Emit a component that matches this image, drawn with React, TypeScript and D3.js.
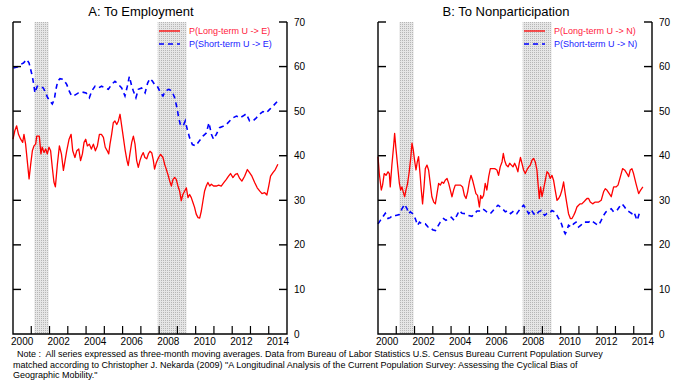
import { useEffect, useRef } from "react";
import * as d3 from "d3";

type Pt = [number, number];

// years as decimal, values in percent
const longTermE: Pt[] = [
  [2000.0, 43.7], [2000.1, 45.6], [2000.2, 46.7], [2000.3, 44.8], [2000.42, 43.7], [2000.53, 43.0],
  [2000.6, 44.8], [2000.69, 42.6], [2000.78, 38.9], [2000.88, 34.8], [2000.97, 38.1], [2001.06, 41.1],
  [2001.15, 42.2], [2001.24, 42.6], [2001.3, 44.4], [2001.44, 44.4], [2001.53, 40.4], [2001.6, 41.9],
  [2001.7, 40.7], [2001.79, 41.5], [2001.88, 40.4], [2001.97, 41.9], [2002.06, 41.1], [2002.15, 37.4],
  [2002.24, 34.1], [2002.32, 33.0], [2002.43, 38.1], [2002.54, 42.2], [2002.65, 40.4], [2002.76, 36.7],
  [2002.85, 38.9], [2002.94, 41.1], [2003.07, 43.7], [2003.18, 44.8], [2003.27, 41.1], [2003.39, 39.6],
  [2003.49, 41.1], [2003.6, 41.5], [2003.7, 38.9], [2003.8, 40.4], [2003.89, 43.0], [2003.98, 43.7],
  [2004.07, 42.2], [2004.18, 42.6], [2004.29, 41.5], [2004.4, 42.6], [2004.51, 41.1], [2004.62, 42.2],
  [2004.73, 44.8], [2004.84, 44.8], [2004.95, 44.1], [2005.05, 41.9], [2005.16, 41.1], [2005.24, 40.4],
  [2005.31, 42.6], [2005.4, 44.8], [2005.49, 47.4], [2005.58, 47.8], [2005.68, 47.0], [2005.77, 47.8],
  [2005.86, 49.3], [2005.95, 46.7], [2006.04, 44.1], [2006.13, 41.5], [2006.24, 38.9], [2006.31, 37.8],
  [2006.4, 40.4], [2006.5, 43.0], [2006.59, 44.4], [2006.68, 42.6], [2006.77, 38.9], [2006.86, 37.4],
  [2006.95, 38.9], [2007.04, 40.0], [2007.13, 40.7], [2007.22, 39.6], [2007.32, 39.3], [2007.41, 40.4],
  [2007.5, 41.0], [2007.6, 40.6], [2007.68, 39.0], [2007.75, 37.0], [2007.85, 38.5], [2007.97, 39.6],
  [2008.08, 40.3], [2008.21, 39.6], [2008.3, 38.1], [2008.39, 37.0], [2008.48, 35.8], [2008.58, 34.3],
  [2008.67, 33.2], [2008.76, 34.7], [2008.85, 35.1], [2008.94, 34.7], [2009.03, 33.2], [2009.12, 32.1],
  [2009.21, 29.9], [2009.3, 31.3], [2009.4, 32.1], [2009.49, 32.8], [2009.58, 30.6], [2009.67, 31.3],
  [2009.76, 30.6], [2009.85, 29.5], [2009.94, 28.4], [2010.03, 26.9], [2010.13, 26.1], [2010.22, 26.0],
  [2010.31, 27.6], [2010.4, 29.9], [2010.49, 32.1], [2010.58, 33.2], [2010.67, 34.0], [2010.77, 33.2],
  [2010.86, 33.6], [2010.98, 33.2], [2011.13, 33.2], [2011.26, 33.4], [2011.4, 33.2], [2011.55, 34.0],
  [2011.68, 34.7], [2011.8, 35.4], [2011.91, 36.0], [2012.04, 35.1], [2012.17, 35.8], [2012.28, 36.0],
  [2012.41, 34.9], [2012.53, 34.3], [2012.68, 35.4], [2012.83, 36.9], [2012.95, 36.2], [2013.08, 35.4],
  [2013.23, 34.0], [2013.37, 32.8], [2013.5, 32.1], [2013.63, 31.5], [2013.78, 31.7], [2013.9, 31.2],
  [2014.0, 33.2], [2014.1, 35.4], [2014.23, 36.2], [2014.36, 36.9], [2014.5, 38.1],
];

const shortTermE: Pt[] = [
  [2000.02, 59.7], [2000.24, 59.9], [2000.38, 60.4], [2000.57, 60.8], [2000.75, 61.6], [2000.88, 60.8],
  [2000.97, 59.3], [2001.06, 57.8], [2001.15, 55.6], [2001.2, 54.1], [2001.33, 55.6], [2001.51, 55.6],
  [2001.66, 55.2], [2001.79, 54.1], [2001.9, 53.0], [2002.03, 52.2], [2002.15, 51.6], [2002.26, 52.6],
  [2002.35, 54.9], [2002.45, 56.7], [2002.57, 57.3], [2002.76, 57.1], [2002.94, 56.0], [2003.08, 54.5],
  [2003.21, 53.4], [2003.39, 53.6], [2003.58, 54.1], [2003.76, 54.3], [2004.0, 54.1], [2004.18, 53.0],
  [2004.31, 54.5], [2004.49, 55.6], [2004.67, 55.2], [2004.85, 55.6], [2005.04, 55.2], [2005.22, 54.9],
  [2005.4, 56.0], [2005.58, 56.7], [2005.77, 56.0], [2005.95, 55.2], [2006.13, 53.4], [2006.26, 55.6],
  [2006.37, 57.8], [2006.5, 55.6], [2006.59, 54.5], [2006.73, 53.0], [2006.86, 54.9], [2007.04, 55.2],
  [2007.23, 54.1], [2007.37, 56.3], [2007.5, 57.3], [2007.62, 56.8], [2007.75, 56.0], [2007.9, 55.6],
  [2008.08, 54.1], [2008.21, 53.4], [2008.34, 54.5], [2008.52, 54.9], [2008.7, 54.5], [2008.85, 53.0],
  [2008.98, 50.7], [2009.07, 48.5], [2009.16, 47.0], [2009.31, 46.6], [2009.43, 47.8], [2009.54, 45.9],
  [2009.67, 44.0], [2009.82, 42.5], [2010.0, 42.2], [2010.16, 43.1], [2010.4, 44.4], [2010.58, 45.1],
  [2010.73, 47.4], [2010.86, 44.8], [2010.98, 43.7], [2011.13, 44.8], [2011.31, 46.3], [2011.5, 46.6],
  [2011.68, 47.0], [2011.86, 47.8], [2012.04, 48.5], [2012.23, 48.9], [2012.41, 48.5], [2012.59, 48.9],
  [2012.77, 49.4], [2012.95, 47.8], [2013.14, 47.8], [2013.32, 48.5], [2013.5, 49.3], [2013.68, 49.9],
  [2013.87, 49.6], [2014.05, 50.4], [2014.23, 51.1], [2014.47, 52.2],
];

const longTermN: Pt[] = [
  [2000.0, 39.8], [2000.07, 36.0], [2000.18, 32.3], [2000.25, 33.4], [2000.34, 36.0], [2000.44, 35.6],
  [2000.55, 36.4], [2000.62, 36.0], [2000.67, 33.0], [2000.76, 37.9], [2000.86, 42.4], [2000.91, 45.0],
  [2000.98, 41.7], [2001.08, 37.5], [2001.17, 33.8], [2001.24, 32.3], [2001.31, 33.0], [2001.38, 31.9],
  [2001.46, 30.8], [2001.53, 32.3], [2001.62, 33.8], [2001.71, 36.4], [2001.8, 39.8], [2001.86, 42.8],
  [2001.93, 41.3], [2002.0, 39.0], [2002.08, 36.8], [2002.15, 38.6], [2002.22, 39.8], [2002.3, 36.0],
  [2002.37, 32.3], [2002.44, 29.2], [2002.52, 33.0], [2002.59, 37.1], [2002.68, 37.9], [2002.77, 36.8],
  [2002.86, 33.8], [2002.95, 30.8], [2003.05, 29.6], [2003.14, 29.2], [2003.23, 31.5], [2003.32, 33.8],
  [2003.41, 33.4], [2003.5, 34.1], [2003.59, 33.8], [2003.68, 34.5], [2003.78, 34.9], [2003.87, 33.8],
  [2003.96, 32.3], [2004.05, 30.8], [2004.14, 32.3], [2004.23, 33.4], [2004.38, 33.4], [2004.52, 33.4],
  [2004.63, 33.0], [2004.73, 31.1], [2004.82, 30.4], [2004.91, 31.9], [2005.0, 34.1], [2005.09, 35.6],
  [2005.18, 34.5], [2005.27, 33.0], [2005.36, 31.5], [2005.45, 31.1], [2005.55, 28.5], [2005.62, 31.1],
  [2005.69, 30.4], [2005.78, 31.1], [2005.87, 33.8], [2005.96, 32.3], [2006.06, 35.3], [2006.15, 37.1],
  [2006.24, 37.1], [2006.39, 37.1], [2006.51, 36.8], [2006.6, 35.6], [2006.69, 37.5], [2006.79, 38.6],
  [2006.86, 40.5], [2006.93, 39.0], [2007.02, 37.9], [2007.12, 37.5], [2007.21, 38.3], [2007.3, 37.9],
  [2007.39, 37.5], [2007.48, 38.3], [2007.57, 37.5], [2007.66, 36.4], [2007.73, 38.3], [2007.8, 39.6],
  [2007.88, 38.3], [2007.97, 36.8], [2008.06, 36.0], [2008.15, 36.8], [2008.25, 37.5], [2008.34, 37.9],
  [2008.43, 39.0], [2008.52, 39.4], [2008.61, 38.6], [2008.7, 36.8], [2008.76, 33.8], [2008.83, 30.4],
  [2008.9, 33.0], [2008.98, 30.8], [2009.07, 32.6], [2009.16, 34.5], [2009.25, 36.4], [2009.34, 36.0],
  [2009.43, 34.9], [2009.52, 35.6], [2009.61, 34.5], [2009.7, 32.3], [2009.8, 30.0], [2009.89, 30.4],
  [2009.98, 31.1], [2010.07, 32.3], [2010.16, 34.1], [2010.25, 31.5], [2010.34, 29.2], [2010.43, 27.0],
  [2010.53, 25.9], [2010.62, 25.9], [2010.71, 26.6], [2010.8, 27.4], [2010.89, 28.5], [2010.98, 28.9],
  [2011.07, 29.2], [2011.16, 29.2], [2011.26, 29.6], [2011.35, 30.0], [2011.44, 30.4], [2011.53, 30.4],
  [2011.62, 29.6], [2011.75, 29.2], [2011.89, 29.6], [2012.08, 29.6], [2012.22, 30.0], [2012.35, 31.9],
  [2012.44, 32.6], [2012.53, 32.3], [2012.66, 31.5], [2012.77, 30.8], [2012.9, 33.0], [2013.03, 33.0],
  [2013.14, 33.4], [2013.27, 35.3], [2013.39, 37.1], [2013.5, 36.8], [2013.63, 36.0], [2013.72, 35.3],
  [2013.81, 36.8], [2013.9, 37.1], [2013.99, 36.0], [2014.12, 33.8], [2014.27, 31.5], [2014.38, 32.3],
  [2014.5, 33.0],
];

const shortTermN: Pt[] = [
  [2000.0, 24.7], [2000.13, 25.5], [2000.25, 26.2], [2000.4, 27.1], [2000.55, 25.9], [2000.67, 26.1],
  [2000.8, 26.6], [2000.98, 26.6], [2001.17, 26.8], [2001.31, 28.1], [2001.46, 29.1], [2001.59, 28.1],
  [2001.68, 27.0], [2001.77, 27.4], [2001.9, 27.0], [2002.04, 25.9], [2002.17, 24.4], [2002.27, 25.1],
  [2002.41, 24.7], [2002.59, 24.7], [2002.74, 24.0], [2002.86, 24.0], [2002.99, 23.4], [2003.14, 23.2],
  [2003.25, 24.0], [2003.41, 25.1], [2003.59, 25.9], [2003.72, 25.5], [2003.86, 25.9], [2004.01, 26.2],
  [2004.16, 25.5], [2004.32, 26.6], [2004.45, 27.7], [2004.6, 27.1], [2004.78, 27.0], [2004.96, 26.6],
  [2005.14, 26.4], [2005.29, 27.0], [2005.42, 27.6], [2005.6, 27.6], [2005.73, 28.1], [2005.87, 27.7],
  [2006.02, 27.1], [2006.15, 27.0], [2006.28, 27.6], [2006.42, 28.3], [2006.57, 28.9], [2006.7, 28.5],
  [2006.86, 27.9], [2006.97, 27.4], [2007.11, 27.7], [2007.26, 27.0], [2007.42, 27.6], [2007.6, 27.0],
  [2007.79, 28.1], [2007.97, 28.9], [2008.1, 28.1], [2008.25, 27.0], [2008.39, 27.9], [2008.52, 27.0],
  [2008.65, 26.6], [2008.79, 27.4], [2008.94, 27.7], [2009.12, 26.6], [2009.25, 27.0], [2009.38, 27.0],
  [2009.52, 27.7], [2009.67, 27.4], [2009.8, 26.6], [2009.89, 25.9], [2009.98, 25.5], [2010.07, 24.4],
  [2010.16, 23.2], [2010.25, 22.5], [2010.34, 23.2], [2010.43, 24.4], [2010.58, 24.0], [2010.71, 24.7],
  [2010.84, 25.1], [2010.98, 24.0], [2011.11, 24.4], [2011.26, 25.1], [2011.38, 25.1], [2011.53, 25.1],
  [2011.68, 25.5], [2011.8, 25.1], [2011.93, 24.7], [2012.08, 24.4], [2012.22, 25.5], [2012.35, 26.6],
  [2012.48, 27.4], [2012.63, 27.7], [2012.77, 28.1], [2012.9, 27.4], [2013.08, 27.7], [2013.21, 28.5],
  [2013.36, 29.2], [2013.5, 28.5], [2013.63, 27.7], [2013.76, 27.4], [2013.9, 27.0], [2014.01, 27.4],
  [2014.12, 26.2], [2014.19, 25.5], [2014.3, 27.0], [2014.41, 27.7],
];

const recessions: Pt[] = [[2001.17, 2001.95], [2007.92, 2009.5]];
const yearTicks = d3.range(2000, 2016);
const yearLabels = [2000, 2002, 2004, 2006, 2008, 2010, 2012, 2014];
const valueTicks = [0, 10, 20, 30, 40, 50, 60, 70];

const noteLines = [
  "Note :  All series expressed as three-month moving averages. Data from Bureau of Labor Statistics U.S. Census Bureau Current Population Survey",
  "matched according to Christopher J. Nekarda (2009) \"A Longitudinal Analysis of the Current Population Survey: Assessing the Cyclical Bias of",
  "Geographic Mobility.\"",
];

const panels = [
  { title: "A: To Employment", left: 13, red: longTermE, blue: shortTermE, labels: ["P(Long-term U -> E)", "P(Short-term U -> E)"] },
  { title: "B: To Nonparticipation", left: 378, red: longTermN, blue: shortTermN, labels: ["P(Long-term U -> N)", "P(Short-term U -> N)"] },
];

const RED = "#ff0000";
const BLUE = "#0000ff";
const NARROW = "'Liberation Sans Narrow', 'Liberation Sans', Arial, sans-serif";
const SANS = "'Liberation Sans', Arial, sans-serif";

export default function App() {
  const ref = useRef<SVGSVGElement>(null);

  useEffect(() => {
    draw();
  }, []);

  function draw() {
    const svg = d3.select(ref.current);
    svg.selectAll("*").remove();

    const top = 22;
    const bottom = 334;
    const w = 274;

    const pat = svg.append("defs").append("pattern")
      .attr("id", "dots")
      .attr("width", 2)
      .attr("height", 2)
      .attr("patternUnits", "userSpaceOnUse");
    pat.append("rect").attr("width", 2).attr("height", 2).attr("fill", "#e6e6e6");
    pat.append("rect").attr("width", 1).attr("height", 1).attr("fill", "#b6b6b6");

    const y = d3.scaleLinear().domain([0, 70]).range([bottom, top]);

    panels.forEach((p) => {
      const g = svg.append("g").attr("transform", `translate(${p.left},0)`);
      const x = d3.scaleLinear().domain([2000, 2015]).range([0, w]);

      g.selectAll("rect.rec")
        .data(recessions)
        .join("rect")
        .attr("class", "rec")
        .attr("x", (d) => x(d[0]))
        .attr("width", (d) => x(d[1]) - x(d[0]))
        .attr("y", top)
        .attr("height", bottom - top)
        .attr("fill", "url(#dots)");

      const line = d3.line<Pt>().x((d) => x(d[0])).y((d) => y(d[1]));

      g.append("path")
        .attr("d", line(p.blue))
        .attr("fill", "none")
        .attr("stroke", BLUE)
        .attr("stroke-width", 1.6)
        .attr("stroke-dasharray", "5,4");

      g.append("path")
        .attr("d", line(p.red))
        .attr("fill", "none")
        .attr("stroke", RED)
        .attr("stroke-width", 1.3)
        .attr("stroke-linejoin", "round");

      // frame: no top edge
      g.append("path")
        .attr("d", `M0,${top}V${bottom}H${w}V${top}`)
        .attr("fill", "none")
        .attr("stroke", "#000")
        .attr("stroke-width", 1.4);

      g.selectAll("line.yl")
        .data(valueTicks.filter((v) => v > 0))
        .join("line")
        .attr("class", "yl")
        .attr("x1", 0).attr("x2", 8)
        .attr("y1", (d) => y(d)).attr("y2", (d) => y(d))
        .attr("stroke", "#000").attr("stroke-width", 1.4);

      g.selectAll("line.yr")
        .data(valueTicks.filter((v) => v > 0))
        .join("line")
        .attr("class", "yr")
        .attr("x1", w - 8).attr("x2", w)
        .attr("y1", (d) => y(d)).attr("y2", (d) => y(d))
        .attr("stroke", "#000").attr("stroke-width", 1.4);

      g.selectAll("text.yr")
        .data(valueTicks)
        .join("text")
        .attr("class", "yr")
        .attr("x", w + 7)
        .attr("y", (d) => y(d) + 3.5)
        .style("font-family", NARROW)
        .style("font-size", "10px")
        .text((d) => d);

      g.selectAll("line.xt")
        .data(yearTicks.slice(1, -1))
        .join("line")
        .attr("class", "xt")
        .attr("x1", (d) => x(d)).attr("x2", (d) => x(d))
        .attr("y1", bottom).attr("y2", bottom - 8)
        .attr("stroke", "#000").attr("stroke-width", 1.2);

      g.selectAll("text.xt")
        .data(yearLabels)
        .join("text")
        .attr("class", "xt")
        .attr("x", (d) => x(d + 0.5))
        .attr("y", 345)
        .attr("text-anchor", "middle")
        .style("font-family", NARROW)
        .style("font-size", "10px")
        .text((d) => d);

      g.append("text")
        .attr("x", 128)
        .attr("y", 16)
        .attr("text-anchor", "middle")
        .style("font-family", SANS)
        .style("font-size", "13px")
        .text(p.title);

      // legend
      const lg = g.append("g");
      [RED, BLUE].forEach((c, i) => {
        const ly = 31 + i * 13;
        lg.append("line")
          .attr("x1", 146).attr("x2", 167)
          .attr("y1", ly).attr("y2", ly)
          .attr("stroke", c)
          .attr("stroke-width", i === 0 ? 1.3 : 1.6)
          .attr("stroke-dasharray", i === 0 ? null : "5,4");
        lg.append("text")
          .attr("x", 176)
          .attr("y", ly + 3.3)
          .attr("fill", i === 0 ? "#ff1a40" : "#1a1aff")
          .style("font-family", SANS)
          .style("font-size", "9px")
          .text(p.labels[i]);
      });
    });

    svg.selectAll("text.note")
      .data(noteLines)
      .join("text")
      .attr("class", "note")
      .attr("x", (_, i) => (i === 0 ? 17 : 13))
      .attr("y", (_, i) => 357 + i * 10.5)
      .style("font-family", NARROW)
      .style("font-size", "9px")
      .style("white-space", "pre")
      .text((d) => d);
  }

  return (
    <svg
      ref={ref}
      width={680}
      height={391}
      style={{ position: "absolute", left: 0, top: 0, background: "white" }}
    ></svg>
  );
}
